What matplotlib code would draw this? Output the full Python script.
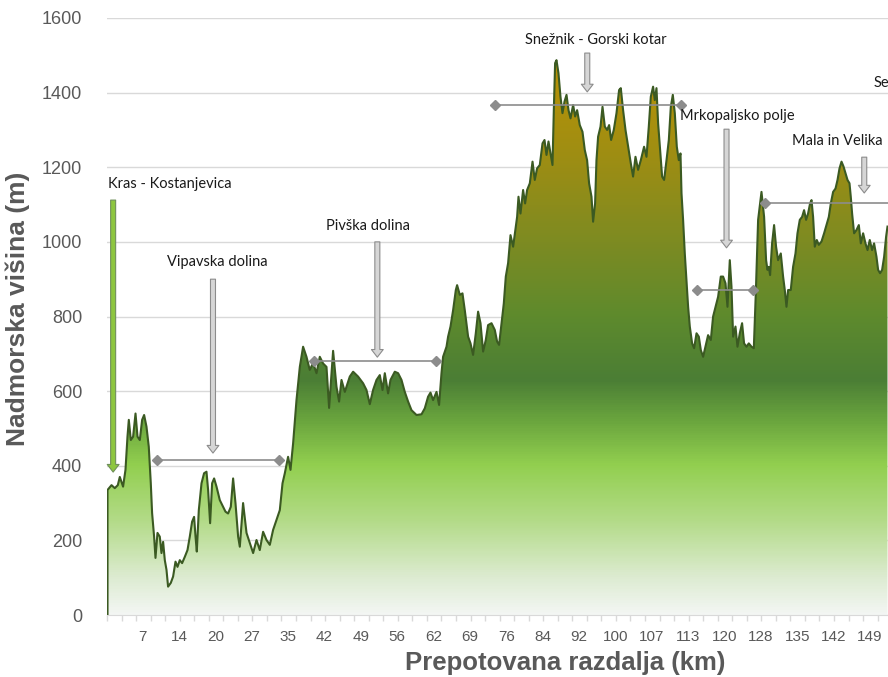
import numpy as np
import matplotlib.pyplot as plt
from matplotlib.colors import LinearSegmentedColormap
from matplotlib.patches import Polygon

# elevation profile: distance (km), altitude (m)
km = [0.1, 0.88, 1.52, 2.11, 2.5, 3.14, 3.61, 4.0, 4.26, 4.65, 5.1, 5.57, 5.96, 6.41, 6.86, 7.25,
      7.71, 8.16, 8.55, 8.81, 9.2, 9.47, 9.86, 10.31, 10.64, 10.96, 11.29, 11.62, 11.93, 12.46, 12.91,
      13.38, 13.77, 14.22, 14.67, 15.2, 15.72, 16.17, 16.62, 17.01, 17.29, 17.54, 17.93, 18.46, 18.96,
      19.43, 19.75, 20.14, 20.53, 20.92, 21.39, 22.03, 22.68, 23.14, 23.65, 24.18, 24.63, 25.1, 25.61,
      25.94, 26.58, 27.25, 27.89, 28.54, 29.2, 29.84, 30.49, 31.15, 31.8, 32.44, 33.11, 33.75, 34.28,
      34.73, 35.37, 35.84, 36.35, 37.01, 37.66, 38.3, 38.96, 39.6, 40.25, 40.92, 41.56, 42.21, 42.87,
      43.38, 44.16, 44.82, 45.33, 45.8, 46.45, 47.42, 48.07, 49.04, 50.02, 50.68, 51.33, 51.97, 52.64,
      53.28, 53.81, 54.26, 54.9, 55.37, 56.21, 56.86, 57.52, 58.16, 58.81, 59.47, 60.45, 61.43, 62.07,
      62.71, 63.18, 63.69, 64.36, 64.86, 65.33, 65.64, 66.31, 66.62, 67.09, 67.6, 68.13, 68.38, 68.91,
      69.43, 69.88, 70.53, 71.0, 71.5, 72.03, 72.48, 72.95, 73.46, 73.98, 74.43, 75.1, 75.74, 76.19,
      76.58, 77.05, 77.5, 77.89, 78.34, 78.81, 79.32, 79.71, 80.1, 80.37, 80.76, 81.27, 81.66, 82.05,
      82.58, 83.11, 83.55, 84.0, 84.53, 85.06, 85.45, 85.84, 86.23, 86.62, 87.01, 87.27, 87.52, 87.79,
      88.18, 88.57, 88.96, 89.36, 89.75, 90.14, 90.53, 91.04, 91.43, 91.82, 92.34, 92.87, 93.32, 93.77,
      94.16, 94.63, 94.94, 95.33, 95.6, 95.92, 96.39, 96.78, 97.23, 97.68, 98.07, 98.46, 98.98, 99.51,
      100.02, 100.35, 100.8, 101.27, 101.78, 102.3, 102.75, 103.22, 103.73, 104.26, 104.9, 105.37,
      105.82, 106.21, 106.66, 106.99, 107.32, 107.64, 108.03, 108.42, 108.81, 109.28, 109.73, 110.12,
      110.51, 110.9, 111.29, 111.68, 112.01, 112.21, 112.52, 112.85, 113.18, 113.5, 113.83, 114.28,
      114.67, 115.14, 115.59, 115.98, 116.43, 116.89, 117.4, 117.93, 118.38, 118.85, 119.36, 119.88,
      120.33, 120.8, 121.19, 121.64, 121.97, 122.29, 122.75, 123.14, 123.59, 124.04, 124.43, 124.9,
      125.35, 125.88, 126.33, 126.72, 127.17, 127.83, 128.34, 128.73, 129.0, 129.26, 129.51, 129.9,
      130.29, 130.68, 131.07, 131.6, 132.05, 132.38, 132.71, 133.03, 133.55, 134.0, 134.47, 134.86,
      135.31, 135.76, 136.15, 136.54, 136.93, 137.32, 137.6, 137.91, 138.24, 138.63, 139.02, 139.55,
      140.06, 140.53, 140.98, 141.37, 141.82, 142.29, 142.68, 143.07, 143.46, 143.85, 144.24, 144.63,
      145.02, 145.27, 145.53, 145.92, 146.39, 146.84, 147.23, 147.68, 148.14, 148.54, 148.98, 149.43,
      149.82, 150.29, 150.61, 150.99, 151.39, 151.78, 152.17, 152.44]
elev = [335, 348, 340, 348, 370, 344, 389, 478, 523, 469, 478, 540, 478, 469, 523, 536,
        505, 451, 354, 273, 210, 153, 220, 210, 166, 196, 147, 121, 76, 86, 103,
        143, 129, 147, 139, 156, 174, 210, 250, 263, 210, 170, 281, 353, 380,
        384, 335, 246, 353, 366, 344, 308, 290, 277, 272, 290, 366, 299, 210,
        183, 300, 220, 193, 166, 201, 174, 223, 201, 188, 228, 255, 281, 353,
        380, 424, 389, 460, 576, 665, 719, 692, 657, 675, 648, 692, 674, 665,
        555, 708, 612, 572, 630, 598, 639, 652, 639, 621, 603, 565, 603, 630,
        643, 603, 648, 594, 630, 652, 648, 630, 598, 572, 549, 536, 538, 554,
        585, 596, 576, 598, 563, 648, 692, 719, 746, 773, 817, 871, 884, 858,
        862, 817, 746, 728, 697, 755, 813, 782, 706, 737, 777, 782, 764, 733,
        724, 782, 835, 907, 943, 1018, 987, 1027, 1067, 1121, 1076, 1139, 1103, 1139,
        1157, 1215, 1166, 1197, 1206, 1264, 1273, 1233, 1269, 1237, 1206, 1353, 1479, 1487,
        1452, 1389, 1345, 1376, 1394, 1353, 1331, 1367, 1336, 1353, 1313, 1295, 1246, 1219,
        1157, 1121, 1054, 1103, 1219, 1282, 1309, 1362, 1309, 1300, 1313, 1273, 1300, 1345,
        1407, 1412, 1353, 1300, 1255, 1211, 1175, 1228, 1193, 1219, 1255, 1228,
        1309, 1389, 1416, 1380, 1412, 1318, 1246, 1175, 1166, 1219, 1273, 1362,
        1394, 1345, 1255, 1219, 1237, 1130, 1059, 969, 898, 826, 773, 728,
        715, 755, 746, 710, 692, 719, 750, 737, 800, 826, 853, 907,
        907, 889, 826, 951, 880, 746, 773, 719, 755, 782, 728, 719,
        728, 719, 715, 863, 1059, 1134, 1067, 951, 925, 933, 911, 996,
        1045, 987, 951, 969, 907, 871, 826, 871, 871, 933, 969, 1023,
        1059, 1067, 1085, 1059, 1076, 1103, 1112, 1067, 987, 1005, 992, 1001,
        1023, 1045, 1067, 1103, 1134, 1143, 1166, 1197, 1215, 1202, 1184, 1166,
        1157, 1121, 1076, 1023, 1032, 1045, 996, 1023, 996, 978, 1005, 978,
        996, 960, 925, 916, 925, 960, 1014, 1041]

tick_labels = ['7', '14', '20', '27', '35', '42', '49', '56', '62', '69', '76', '84', '92',
               '100', '107', '113', '120', '128', '135', '142', '149']
y_ticks = [0, 200, 400, 600, 800, 1000, 1200, 1400, 1600]

regions = ['Kras - Kostanjevica', 'Vipavska dolina', 'Pivška dolina', 'Snežnik - Gorski kotar',
           'Mrkopaljsko polje', 'Mala in Velika', 'Se']
# horizontal span of each region (km) and its level (m)
span_start = [None, 9.7, 40.4, 75.8, 115.2, 128.6, None]
span_end = [None, 33.6, 64.2, 112.1, 126.1, 170.0, None]
span_level = [None, 415, 682, 1368, 871, 1105, None]

# label placement: (x km, y m, ha) and arrow (x km, from m, to m)
label_pos = [(0.1, 1155, 'left'), (21.6, 946, 'center'), (50.9, 1043, 'center'),
             (95.5, 1541, 'center'), (112.0, 1337, 'left'), (133.8, 1270, 'left'),
             (149.7, 1426, 'left')]
arrow_pos = [(1.2, 1112, 383), (20.7, 900, 434), (52.8, 1000, 691), (93.8, 1506, 1402),
             (121.0, 1302, 984), (147.9, 1227, 1131), None]

fig = plt.figure(figsize=(8.88, 6.77), dpi=100)
ax = fig.add_axes([107 / 888, 62 / 677, 160 * 5.12 / 888, 597 / 677])

# gradient fill clipped to the profile
cmap = LinearSegmentedColormap.from_list('relief', [
    (0.0, '#f3f6f3'), (100 / 1600, '#dcebd0'), (250 / 1600, '#b3db88'),
    (400 / 1600, '#92cf4f'), (520 / 1600, '#6aa53e'), (630 / 1600, '#4b7e35'),
    (800 / 1600, '#5e8a2d'), (1000 / 1600, '#7d8b22'), (1200 / 1600, '#9a8d15'),
    (1450 / 1600, '#b79207'), (1.0, '#bb9306')])
grad = np.linspace(0, 1, 600).reshape(-1, 1)
img = ax.imshow(grad, extent=[0, 160, 0, 1600], origin='lower', aspect='auto',
                cmap=cmap, zorder=2, interpolation='bilinear')
verts = list(zip(km, elev)) + [(km[-1], 0), (km[0], 0)]
shape = Polygon(verts, closed=True, fc='none', ec='none', transform=ax.transData)
ax.add_patch(shape)
img.set_clip_path(shape)
ax.plot([km[0]] + km, [0] + elev, color='#3b5a22', lw=1.5, zorder=3, solid_joinstyle='round')

ax.set_xlim(0, 160)
ax.set_ylim(0, 1600)

# axes styling
ax.set_yticks(y_ticks)
ax.set_yticklabels([str(v) for v in y_ticks])
ax.yaxis.grid(True, color='#d9d9d9', lw=1.0)
ax.set_axisbelow(True)
ax.tick_params(axis='y', length=0, pad=18, labelsize=13, labelcolor='#595959')
ax.set_xticks(np.linspace(7, 149, len(tick_labels)))
ax.set_xticklabels(tick_labels)
ax.set_xticks(np.arange(0, 160, 2.84), minor=True)
ax.tick_params(axis='x', which='major', length=0, pad=11, labelsize=11, labelcolor='#595959')
ax.tick_params(axis='x', which='minor', length=4, width=1, color='#d9d9d9')
for lab in ax.get_xticklabels():
    lab.set_family(['Liberation Sans Narrow', 'Liberation Sans'])
for lab in ax.get_yticklabels():
    lab.set_family('Liberation Sans')
for s in ['top', 'right', 'left']:
    ax.spines[s].set_visible(False)
ax.spines['bottom'].set_color('#d9d9d9')

fig.text(565 / 888, 14 / 677, 'Prepotovana razdalja (km)', ha='center', va='center',
         fontsize=18.5, fontweight='bold', color='#595959', family='Liberation Sans')
fig.text(18 / 888, 368 / 677, 'Nadmorska višina (m)', ha='center', va='center', rotation=90,
         fontsize=19, fontweight='bold', color='#595959', family='Liberation Sans')

# region annotations
for i, name in enumerate(regions):
    tx, ty, ha = label_pos[i]
    ax.text(tx, ty, name, ha=ha, va='center', fontsize=10.5, family='Lato', color='#1a1a1a',
            zorder=6, clip_on=False)
    if span_level[i] is not None:
        ax.plot([span_start[i], span_end[i]], [span_level[i], span_level[i]], color='#8c8c8c',
                lw=1.2, marker='D', ms=5, markevery=[0, 1], zorder=4)
    if arrow_pos[i] is not None:
        axx, y0, y1 = arrow_pos[i]
        fc = '#8dc63f' if i == 0 else '#d6d6d6'
        ec = '#6f8f5a' if i == 0 else '#8c8c8c'
        ax.annotate('', xy=(axx, y1), xytext=(axx, y0),
                    arrowprops=dict(arrowstyle='simple,head_length=0.55,head_width=0.85,tail_width=0.36',
                                    fc=fc, ec=ec, lw=0.8, shrinkA=0, shrinkB=0, mutation_scale=10),
                    zorder=5)

fig.savefig('out.png', dpi=100)
